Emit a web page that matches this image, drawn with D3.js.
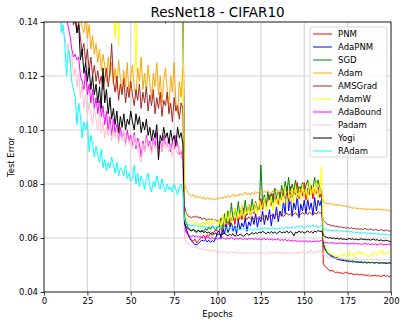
<!DOCTYPE html>
<html>
<head>
<meta charset="utf-8">
<script src="https://cdn.jsdelivr.net/npm/d3@7"></script>
<style>
  body { margin: 0; background: #fff; }
  svg { font-family: "DejaVu Sans", sans-serif; }
</style>
</head>
<body>
<div id="chart"></div>
<script>
const width = 407;
const height = 326;
const margin = { top: 22, right: 16, bottom: 34, left: 44 };

const xTicks = [0, 25, 50, 75, 100, 125, 150, 175, 200];
const yTicks = [0.04, 0.06, 0.08, 0.10, 0.12, 0.14];

// test error per epoch (epochs 1..200)
const pnm = [
  .45,.36,.30,.27,.25,.24,.22,.23,.21,.20, .21,.19,.20,.18,.19,.21,.18,.17,.19,.18,
  .17,.19,.18,.16,.18,.17,.19,.17,.16,.18, .17,.16,.18,.19,.17,.16,.18,.17,.16,.17,
  .18,.16,.17,.19,.16,.17,.16,.18,.17,.16, .17,.16,.18,.16,.15,.17,.16,.18,.16,.17,
  .16,.17,.15,.18,.16,.17,.15,.16,.17,.1395, .16,.17,.15,.16,.18,.16,.15,.17,.16,.17,
  .0650,.0625,.0612,.0600,.0592,.0588,.0596,.0582,.0590,.0598, .0604,.0610,.0598,.0612,.0606,.0618,.0610,.0622,.0630,.0626,
  .0625,.0650,.0615,.0660,.0635,.0672,.0640,.0665,.0685,.0650, .0690,.0660,.0700,.0668,.0712,.0675,.0695,.0720,.0680,.0715,
  .0690,.0735,.0700,.0725,.0745,.0705,.0750,.0715,.0740,.0760, .0720,.0765,.0735,.0755,.0725,.0770,.0740,.0780,.0745,.0765,
  .0735,.0790,.0750,.0775,.0760,.0805,.0745,.0790,.0755,.0805, .0740,.0785,.0760,.0795,.0745,.0780,.0765,.0790,.0750,.0770,
  .0505,.0495,.0488,.0482,.0478,.0480,.0476,.0472,.0474,.0470, .0472,.0468,.0470,.0474,.0471,.0467,.0469,.0466,.0464,.0467,
  .0465,.0463,.0466,.0462,.0464,.0460,.0463,.0458,.0461,.0460, .0462,.0459,.0461,.0457,.0460,.0462,.0458,.0461,.0456,.0460
];
const adapnm = [
  .46,.37,.31,.28,.26,.24,.23,.22,.22,.21, .20,.21,.19,.20,.18,.19,.18,.20,.17,.18,
  .19,.17,.18,.16,.17,.18,.16,.17,.18,.16, .17,.16,.18,.16,.17,.15,.17,.16,.18,.16,
  .16,.17,.15,.17,.16,.18,.15,.16,.17,.16, .15,.17,.16,.15,.16,.17,.15,.16,.15,.17,
  .16,.15,.16,.17,.15,.16,.15,.17,.16,.15, .16,.15,.17,.15,.16,.15,.16,.15,.16,.15,
  .0660,.0635,.0615,.0600,.0590,.0582,.0576,.0575,.0580,.0586, .0592,.0588,.0595,.0585,.0592,.0584,.0590,.0586,.0600,.0622,
  .0625,.0600,.0640,.0615,.0650,.0620,.0635,.0660,.0625,.0645, .0615,.0665,.0630,.0655,.0640,.0675,.0625,.0660,.0645,.0680,
  .0650,.0690,.0640,.0675,.0660,.0700,.0650,.0685,.0665,.0705, .0645,.0690,.0670,.0715,.0660,.0700,.0680,.0735,.0690,.0790,
  .0700,.0755,.0680,.0730,.0705,.0760,.0675,.0725,.0700,.0740, .0690,.0745,.0705,.0730,.0685,.0750,.0700,.0740,.0720,.0745,
  .0580,.0560,.0548,.0540,.0535,.0530,.0526,.0524,.0521,.0520, .0518,.0516,.0517,.0514,.0515,.0512,.0513,.0511,.0512,.0510,
  .0511,.0509,.0510,.0508,.0510,.0507,.0509,.0508,.0510,.0507, .0508,.0509,.0506,.0508,.0507,.0509,.0505,.0507,.0508,.0506
];
const sgd = [
  .55,.42,.33,.29,.27,.25,.24,.26,.22,.23, .21,.24,.20,.22,.19,.23,.20,.21,.19,.22,
  .18,.21,.19,.20,.17,.22,.18,.19,.20,.17, .19,.21,.17,.18,.20,.16,.19,.17,.21,.18,
  .17,.19,.16,.20,.18,.17,.19,.16,.18,.20, .17,.16,.19,.17,.18,.16,.20,.17,.16,.18,
  .17,.19,.16,.18,.17,.16,.19,.17,.18,.16, .17,.18,.16,.19,.17,.16,.18,.16,.17,.16,
  .0680,.0655,.0640,.0632,.0628,.0630,.0624,.0620,.0626,.0622, .0630,.0625,.0635,.0628,.0640,.0632,.0645,.0636,.0630,.0642,
  .0640,.0675,.0630,.0690,.0655,.0700,.0650,.0730,.0665,.0710, .0680,.0735,.0675,.0720,.0690,.0740,.0685,.0725,.0700,.0745,
  .0695,.0730,.0710,.0705,.0870,.0725,.0760,.0715,.0770,.0740, .0765,.0730,.0785,.0750,.0770,.0745,.0795,.0755,.0810,.0770,
  .0825,.0760,.0800,.0775,.0815,.0765,.0790,.0780,.0805,.0770, .0795,.0815,.0770,.0790,.0780,.0825,.0790,.0815,.0785,.0775,
  .0570,.0555,.0547,.0542,.0538,.0534,.0531,.0528,.0527,.0524, .0522,.0521,.0519,.0518,.0516,.0515,.0514,.0516,.0513,.0512,
  .0513,.0511,.0512,.0510,.0511,.0509,.0511,.0508,.0510,.0509, .0508,.0510,.0507,.0509,.0508,.0507,.0509,.0506,.0508,.0507
];
const adam = [
  .40,.30,.26,.23,.21,.20,.19,.18,.17,.17, .16,.165,.155,.15,.16,.148,.152,.145,.150,.143,
  .1420,.1380,.1360,.1410,.1340,.1390,.1300,.1350,.1280,.1320, .1250,.1300,.1220,.1280,.1240,.1180,.1270,.1200,.1250,.1170,
  .1230,.1150,.1260,.1190,.1140,.1220,.1160,.1250,.1130,.1200, .1240,.1160,.1120,.1230,.1180,.1270,.1150,.1210,.1140,.1240,
  .1170,.1120,.1210,.1160,.1250,.1130,.1200,.1100,.1180,.1230, .1150,.1080,.1200,.1140,.1250,.1100,.1060,.1180,.1120,.1230,
  .0800,.0780,.0768,.0760,.0755,.0762,.0750,.0756,.0748,.0754, .0746,.0752,.0742,.0750,.0744,.0748,.0740,.0746,.0742,.0748,
  .0744,.0752,.0746,.0755,.0748,.0758,.0750,.0756,.0762,.0752, .0760,.0755,.0765,.0758,.0762,.0770,.0760,.0766,.0758,.0768,
  .0762,.0772,.0765,.0770,.0778,.0766,.0774,.0768,.0776,.0770, .0765,.0775,.0768,.0780,.0770,.0776,.0766,.0778,.0772,.0768,
  .0776,.0770,.0782,.0772,.0768,.0778,.0772,.0780,.0770,.0776, .0770,.0778,.0772,.0766,.0780,.0774,.0770,.0778,.0772,.0776,
  .0735,.0730,.0728,.0726,.0728,.0724,.0726,.0722,.0725,.0720, .0722,.0718,.0721,.0716,.0719,.0714,.0712,.0710,.0713,.0708,
  .0711,.0707,.0710,.0706,.0709,.0705,.0708,.0706,.0704,.0707, .0705,.0708,.0704,.0707,.0703,.0706,.0702,.0705,.0700,.0703
];
const amsgrad = [
  .38,.30,.25,.22,.20,.19,.18,.17,.165,.16, .155,.150,.148,.145,.1420,.1440,.1390,.1410,.1360,.1400,
  .1340,.1290,.1320,.1250,.1300,.1220,.1270,.1200,.1240,.1180, .1220,.1170,.1200,.1150,.1190,.1230,.1160,.1210,.1320,.1180,
  .1140,.1200,.1110,.1170,.1130,.1190,.1100,.1160,.1120,.1180, .1130,.1090,.1150,.1110,.1170,.1080,.1140,.1100,.1160,.1070,
  .1130,.1090,.1150,.1060,.1120,.1080,.1140,.1050,.1110,.1090, .1140,.1060,.1100,.1030,.1120,.1070,.1090,.1040,.1100,.1080,
  .0720,.0690,.0682,.0678,.0675,.0680,.0676,.0682,.0674,.0678, .0668,.0674,.0670,.0665,.0672,.0666,.0670,.0664,.0668,.0662,
  .0668,.0664,.0672,.0666,.0674,.0668,.0662,.0670,.0676,.0668, .0672,.0666,.0674,.0680,.0670,.0676,.0668,.0678,.0672,.0675,
  .0670,.0678,.0672,.0680,.0674,.0670,.0682,.0676,.0672,.0680, .0685,.0676,.0682,.0688,.0678,.0684,.0690,.0680,.0686,.0692,
  .0684,.0690,.0682,.0688,.0694,.0684,.0690,.0686,.0695,.0688, .0692,.0686,.0696,.0690,.0684,.0694,.0688,.0698,.0692,.0695,
  .0665,.0658,.0652,.0650,.0648,.0645,.0646,.0642,.0644,.0640, .0642,.0638,.0640,.0636,.0639,.0635,.0638,.0634,.0636,.0633,
  .0635,.0632,.0634,.0631,.0636,.0632,.0630,.0634,.0631,.0628, .0632,.0630,.0627,.0631,.0629,.0626,.0630,.0628,.0625,.0627
];
const adamw = [
  .50,.40,.32,.28,.25,.23,.22,.21,.20,.19, .19,.18,.185,.175,.17,.18,.165,.17,.16,.165,
  .17,.155,.16,.165,.15,.158,.162,.15,.155,.16, .152,.158,.148,.155,.15,.16,.147,.153,.15,.145,
  .1340,.1500,.1310,.1480,.1520,.1450,.1500,.1560,.1470,.1490, .1550,.1460,.1215,.1480,.1520,.1450,.1500,.1440,.1530,.1470,
  .1490,.1550,.1450,.1500,.1460,.1540,.1480,.1450,.1520,.1470, .1500,.1460,.1540,.1450,.1490,.1530,.1460,.1480,.1450,.1500,
  .0700,.0680,.0665,.0660,.0655,.0662,.0650,.0658,.0645,.0655, .0640,.0660,.0648,.0665,.0645,.0668,.0650,.0670,.0655,.0648,
  .0670,.0640,.0685,.0650,.0695,.0660,.0700,.0655,.0680,.0710, .0665,.0700,.0675,.0720,.0670,.0705,.0690,.0725,.0680,.0715,
  .0695,.0730,.0685,.0740,.0705,.0720,.0750,.0700,.0735,.0715, .0755,.0700,.0745,.0720,.0765,.0715,.0760,.0730,.0790,.0720,
  .0770,.0735,.0785,.0730,.0795,.0745,.0770,.0740,.0800,.0755, .0780,.0740,.0810,.0755,.0790,.0760,.0815,.0750,.0775,.0865,
  .0600,.0575,.0560,.0552,.0548,.0545,.0540,.0536,.0534,.0530, .0538,.0532,.0545,.0535,.0528,.0550,.0536,.0542,.0530,.0548,
  .0540,.0552,.0538,.0546,.0534,.0540,.0530,.0536,.0532,.0548, .0540,.0535,.0550,.0542,.0555,.0538,.0546,.0540,.0552,.0545
];
const adabound = [
  .40,.30,.25,.22,.20,.18,.17,.16,.155,.15, .148,.145,.142,.1380,.1350,.1300,.1270,.1280,.1260,.1270,
  .1200,.1180,.1150,.1220,.1130,.1170,.1100,.1150,.1080,.1120, .1060,.1110,.1050,.1090,.1020,.1070,.1000,.1050,.0980,.1040,
  .0990,.1020,.0960,.1010,.0970,.0990,.0950,.1000,.0960,.0980, .0940,.0990,.0930,.0970,.0950,.0900,.0960,.0920,.0980,.0940,
  .0960,.0920,.0970,.0940,.0990,.0930,.0960,.0920,.0980,.0950, .0940,.0970,.0920,.0960,.0930,.0980,.0950,.0910,.0920,.0880,
  .0640,.0620,.0612,.0608,.0605,.0610,.0604,.0608,.0602,.0606, .0600,.0604,.0598,.0603,.0600,.0598,.0602,.0597,.0600,.0596,
  .0600,.0597,.0601,.0598,.0596,.0600,.0597,.0602,.0598,.0595, .0599,.0596,.0600,.0597,.0595,.0598,.0594,.0599,.0596,.0598,
  .0595,.0598,.0594,.0597,.0593,.0596,.0598,.0594,.0597,.0593, .0596,.0592,.0595,.0593,.0597,.0591,.0594,.0592,.0595,.0590,
  .0593,.0589,.0592,.0588,.0591,.0587,.0590,.0586,.0589,.0587, .0590,.0586,.0589,.0585,.0588,.0586,.0590,.0587,.0589,.0592,
  .0585,.0582,.0584,.0580,.0583,.0581,.0582,.0579,.0581,.0580, .0582,.0579,.0581,.0578,.0580,.0577,.0579,.0581,.0578,.0580,
  .0577,.0579,.0576,.0578,.0580,.0577,.0579,.0575,.0578,.0576, .0578,.0575,.0577,.0579,.0576,.0574,.0577,.0575,.0578,.0576
];
const padam = [
  .35,.27,.22,.19,.17,.16,.15,.145,.142,.1380, .1360,.1350,.1300,.1320,.1250,.1280,.1200,.1230,.1160,.1210,
  .1120,.1170,.1080,.1130,.1050,.1100,.1060,.1020,.1080,.1040, .1000,.1060,.0990,.1030,.0970,.1010,.0980,.1020,.0960,.1000,
  .0970,.1010,.0950,.0990,.0960,.1000,.0940,.0980,.0950,.0970, .0930,.0980,.0940,.0960,.0900,.0880,.0950,.0920,.0970,.0930,
  .0950,.0910,.0960,.0930,.0940,.0900,.0950,.0920,.0960,.0930, .0950,.0920,.0940,.0900,.0960,.0930,.0910,.0940,.0900,.0920,
  .0600,.0585,.0578,.0572,.0568,.0570,.0564,.0566,.0560,.0562, .0558,.0560,.0555,.0558,.0553,.0556,.0552,.0555,.0550,.0548,
  .0545,.0550,.0546,.0552,.0544,.0549,.0543,.0548,.0545,.0550, .0544,.0547,.0542,.0548,.0545,.0541,.0546,.0543,.0547,.0542,
  .0546,.0541,.0545,.0543,.0548,.0542,.0546,.0540,.0545,.0549, .0543,.0547,.0542,.0550,.0544,.0548,.0541,.0546,.0543,.0547,
  .0542,.0548,.0544,.0540,.0546,.0543,.0549,.0541,.0552,.0545, .0542,.0548,.0544,.0556,.0546,.0543,.0550,.0547,.0552,.0548,
  .0540,.0533,.0530,.0528,.0526,.0527,.0524,.0526,.0523,.0525, .0522,.0524,.0521,.0523,.0520,.0522,.0519,.0521,.0523,.0520,
  .0522,.0519,.0521,.0518,.0520,.0522,.0519,.0521,.0518,.0520, .0519,.0521,.0518,.0520,.0517,.0519,.0521,.0518,.0520,.0519
];
const yogi = [
  .40,.32,.27,.24,.22,.20,.19,.18,.17,.165, .160,.155,.150,.1450,.1420,.1440,.1400,.1420,.1360,.1390,
  .1260,.1300,.1210,.1250,.1180,.1230,.1150,.1200,.1130,.1170, .1100,.1160,.1080,.1230,.1100,.1150,.1060,.1120,.1040,.1080,
  .1020,.1070,.0990,.1050,.1010,.1060,.1000,.1040,.1020,.1070, .1030,.1000,.1060,.1020,.1050,.0990,.1030,.1000,.1040,.0980,
  .1010,.0960,.1000,.0970,.1020,.0890,.0980,.0960,.1010,.0970, .0990,.0950,.1000,.0960,.0980,.0940,.1010,.0970,.0990,.0950,
  .0650,.0640,.0635,.0630,.0626,.0632,.0628,.0624,.0630,.0622, .0626,.0620,.0624,.0618,.0622,.0616,.0620,.0614,.0618,.0612,
  .0616,.0610,.0614,.0618,.0612,.0608,.0614,.0610,.0616,.0606, .0612,.0608,.0615,.0610,.0606,.0612,.0618,.0610,.0615,.0620,
  .0614,.0620,.0616,.0622,.0618,.0625,.0620,.0616,.0622,.0618, .0624,.0618,.0622,.0616,.0620,.0625,.0618,.0622,.0620,.0626,
  .0618,.0624,.0620,.0608,.0622,.0618,.0626,.0620,.0624,.0618, .0622,.0626,.0620,.0624,.0618,.0626,.0622,.0628,.0624,.0626,
  .0610,.0605,.0602,.0600,.0602,.0598,.0600,.0597,.0599,.0596, .0598,.0595,.0597,.0594,.0596,.0598,.0595,.0597,.0594,.0596,
  .0593,.0595,.0597,.0594,.0596,.0593,.0595,.0592,.0594,.0596, .0592,.0594,.0590,.0593,.0591,.0589,.0592,.0590,.0588,.0586
];
const radam = [
  .60,.45,.35,.28,.24,.20,.18,.16,.15,.1360, .1390,.1320,.1200,.1300,.1260,.1180,.1150,.1120,.1020,.1100,
  .1050,.0970,.1030,.1000,.1030,.0920,.0980,.0950,.0900,.0940, .0910,.0880,.0930,.0860,.0890,.0850,.0880,.0860,.0900,.0870,
  .0840,.0880,.0830,.0860,.0850,.0830,.0870,.0820,.0840,.0810, .0820,.0870,.0800,.0840,.0790,.0830,.0810,.0780,.0820,.0840,
  .0790,.0770,.0810,.0790,.0830,.0800,.0780,.0820,.0790,.0770, .0800,.0780,.0790,.0770,.0800,.0780,.0760,.0790,.0800,.0770,
  .0665,.0655,.0650,.0648,.0645,.0648,.0644,.0646,.0642,.0645, .0640,.0643,.0641,.0638,.0642,.0639,.0644,.0640,.0637,.0642,
  .0638,.0641,.0636,.0640,.0637,.0634,.0639,.0635,.0638,.0632, .0636,.0633,.0630,.0635,.0632,.0636,.0630,.0634,.0631,.0628,
  .0632,.0635,.0630,.0633,.0637,.0634,.0638,.0633,.0636,.0632, .0635,.0638,.0634,.0637,.0632,.0636,.0639,.0634,.0637,.0641,
  .0636,.0640,.0637,.0642,.0638,.0644,.0640,.0646,.0642,.0638, .0642,.0646,.0640,.0644,.0648,.0642,.0645,.0640,.0643,.0646,
  .0636,.0632,.0630,.0628,.0630,.0627,.0629,.0626,.0628,.0625, .0627,.0624,.0626,.0623,.0625,.0622,.0624,.0621,.0623,.0620,
  .0622,.0619,.0621,.0618,.0620,.0617,.0619,.0616,.0618,.0615, .0617,.0614,.0616,.0613,.0615,.0612,.0614,.0611,.0613,.0610
];

const series = [
  { name: "PNM", color: "#ff0000", values: pnm },
  { name: "AdaPNM", color: "#0000ff", values: adapnm },
  { name: "SGD", color: "#008000", values: sgd },
  { name: "Adam", color: "#ffa500", values: adam },
  { name: "AMSGrad", color: "#a52a2a", values: amsgrad },
  { name: "AdamW", color: "#ffff00", values: adamw },
  { name: "AdaBound", color: "#ff00ff", values: adabound },
  { name: "Padam", color: "#ffc0cb", values: padam },
  { name: "Yogi", color: "#000000", values: yogi },
  { name: "RAdam", color: "#00ffff", values: radam }
];

const svg = d3.select("#chart")
  .append("svg")
  .attr("width", width)
  .attr("height", height);

const x = d3.scaleLinear().domain([0, 200]).range([margin.left, width - margin.right]);
const y = d3.scaleLinear().domain([0.04, 0.14]).range([height - margin.bottom, margin.top]);

// grid
svg.append("g")
  .selectAll("line.vg")
  .data(xTicks)
  .enter()
  .append("line")
  .attr("x1", d => x(d)).attr("x2", d => x(d))
  .attr("y1", y(0.04)).attr("y2", y(0.14))
  .attr("stroke", "#d6d6d6").attr("stroke-width", 1.2);

svg.append("g")
  .selectAll("line.hg")
  .data(yTicks)
  .enter()
  .append("line")
  .attr("x1", x(0)).attr("x2", x(200))
  .attr("y1", d => y(d)).attr("y2", d => y(d))
  .attr("stroke", "#d6d6d6").attr("stroke-width", 1.2);

svg.append("clipPath")
  .attr("id", "clip")
  .append("rect")
  .attr("x", x(0)).attr("y", y(0.14))
  .attr("width", x(200) - x(0)).attr("height", y(0.04) - y(0.14));

const line = d3.line()
  .x((d, i) => x(i + 1))
  .y(d => y(d));

svg.append("g")
  .attr("clip-path", "url(#clip)")
  .selectAll("path")
  .data(series)
  .enter()
  .append("path")
  .attr("d", d => line(d.values))
  .attr("fill", "none")
  .attr("stroke", d => d.color)
  .attr("stroke-width", 1)
  .attr("stroke-linejoin", "round");

// axes
const xAxis = svg.append("g")
  .attr("transform", `translate(0,${y(0.04)})`)
  .call(d3.axisBottom(x).tickValues(xTicks).tickSize(3.5).tickPadding(2.5));
const yAxis = svg.append("g")
  .attr("transform", `translate(${x(0)},0)`)
  .call(d3.axisLeft(y).tickValues(yTicks).tickFormat(d3.format(".2f")).tickSize(3.5).tickPadding(2.5));

[xAxis, yAxis].forEach(g => {
  g.selectAll("text").attr("font-size", 8.5).attr("fill", "#000").attr("font-family", "DejaVu Sans");
  g.selectAll("line").attr("stroke", "#000").attr("stroke-width", 0.8);
  g.select(".domain").remove();
});

// frame
svg.append("rect")
  .attr("x", x(0)).attr("y", y(0.14))
  .attr("width", x(200) - x(0)).attr("height", y(0.04) - y(0.14))
  .attr("fill", "none").attr("stroke", "#000").attr("stroke-width", 0.8);

svg.append("text")
  .attr("x", (x(0) + x(200)) / 2).attr("y", 17)
  .attr("text-anchor", "middle")
  .attr("font-size", 13.5)
  .text("ResNet18 - CIFAR10");

svg.append("text")
  .attr("x", (x(0) + x(200)) / 2).attr("y", 317)
  .attr("text-anchor", "middle")
  .attr("font-size", 8.5)
  .text("Epochs");

svg.append("text")
  .attr("transform", `translate(14,${(y(0.04) + y(0.14)) / 2}) rotate(-90)`)
  .attr("text-anchor", "middle")
  .attr("font-size", 8.5)
  .text("Test Error");

// legend
const legend = svg.append("g").attr("transform", "translate(310,27)");
legend.append("rect")
  .attr("width", 77).attr("height", 130)
  .attr("rx", 2)
  .attr("fill", "#fff").attr("fill-opacity", 0.8)
  .attr("stroke", "#cccccc").attr("stroke-width", 0.8);

const item = legend.selectAll("g.item")
  .data(series)
  .enter()
  .append("g")
  .attr("transform", (d, i) => `translate(0,${7 + i * 13})`);
item.append("line")
  .attr("x1", 3).attr("x2", 22)
  .attr("stroke", d => d.color).attr("stroke-width", 1);
item.append("text")
  .attr("x", 28).attr("y", 3)
  .attr("font-size", 8.5)
  .text(d => d.name);
</script>
</body>
</html>
